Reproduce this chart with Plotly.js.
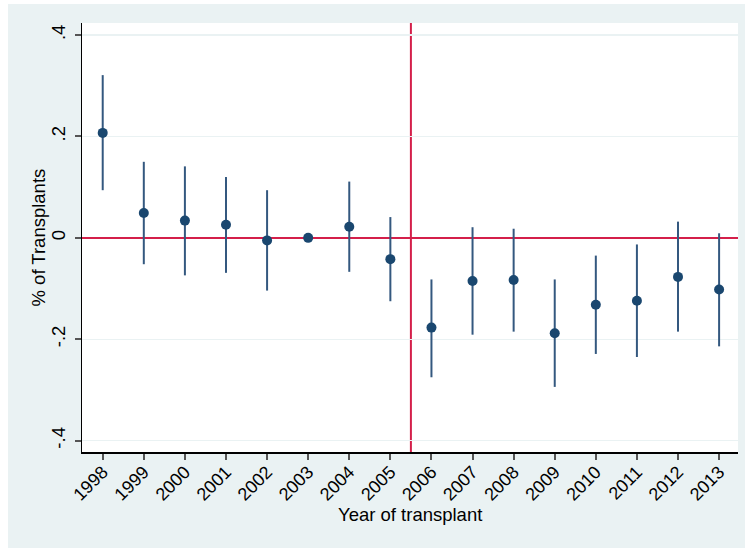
<!DOCTYPE html>
<html>
<head>
<meta charset="utf-8">
<script src="https://cdn.plot.ly/plotly-3.0.1.min.js"></script>
<style>
html,body{margin:0;padding:0;background:#ffffff;width:745px;height:548px;overflow:hidden;}
#chart{position:absolute;left:8px;top:4px;width:737px;height:544px;}
</style>
</head>
<body>
<div id="chart"></div>
<script>
var years = [1998,1999,2000,2001,2002,2003,2004,2005,2006,2007,2008,2009,2010,2011,2012,2013];
var estimate = [0.207,0.049,0.034,0.026,-0.005,0.0,0.022,-0.042,-0.177,-0.085,-0.083,-0.188,-0.132,-0.124,-0.077,-0.102];
var upperCI = [0.321,0.150,0.141,0.120,0.094,0.0,0.111,0.041,-0.082,0.021,0.018,-0.082,-0.035,-0.013,0.032,0.009];
var lowerCI = [0.094,-0.052,-0.074,-0.069,-0.104,0.0,-0.067,-0.125,-0.275,-0.191,-0.185,-0.294,-0.229,-0.235,-0.185,-0.214];
var yTickVals = [0.4,0.2,0,-0.2,-0.4];
var yTickText = [".4",".2","0","-.2","-.4"];
var cutoffYear = 2005.5;
var xTitle = 'Year of transplant';
var yTitle = '% of Transplants';

var errPlus = estimate.map(function(v,i){return upperCI[i]-v;});
var errMinus = estimate.map(function(v,i){return v-lowerCI[i];});

var font = "Liberation Sans, Arial, Helvetica, sans-serif";

var trace = {
  x: years, y: estimate, type: 'scatter', mode: 'markers',
  marker: {color:'#1a476f', size:10},
  error_y: {type:'data', symmetric:false, array:errPlus, arrayminus:errMinus,
            width:0, thickness:2, color:'#34587f'},
  hoverinfo:'x+y', showlegend:false
};

var layout = {
  width:737, height:544,
  paper_bgcolor:'#eaf2f3', plot_bgcolor:'#ffffff',
  margin:{l:74, r:7, t:19, b:96},
  font:{family:font, size:18, color:'#000000'},
  xaxis:{
    range:[1997.496, 2013.46], tickvals:years, ticktext:years.map(String),
    tickangle:-45, ticks:'outside', ticklen:6, tickwidth:2, tickcolor:'#555555',
    ticklabelstandoff:-5,
    showline:true, linecolor:'#000000', linewidth:1.5, mirror:false,
    showgrid:false, zeroline:false,
    tickfont:{family:font, size:18, color:'#000000'},
    automargin:false
  },
  yaxis:{
    range:[-0.4224, 0.4238], tickvals:yTickVals, ticktext:yTickText,
    tickangle:-90, ticks:'outside', ticklen:6, tickwidth:2, tickcolor:'#555555',
    ticklabelstandoff:2,
    showline:true, linecolor:'#000000', linewidth:1.5,
    showgrid:true, gridcolor:'#eaf2f3', gridwidth:1.5,
    zeroline:true, zerolinecolor:'#d41f4a', zerolinewidth:2,
    tickfont:{family:font, size:18.5, color:'#000000'},
    automargin:false
  },
  annotations:[
    {text:xTitle, xref:'paper', yref:'paper', x:0.5, y:0, yshift:-62,
     xanchor:'center', yanchor:'middle', showarrow:false,
     font:{family:font, size:18.5, color:'#000000'}},
    {text:yTitle, xref:'paper', yref:'paper', x:0, y:0.5, xshift:-44,
     xanchor:'center', yanchor:'middle', textangle:-90, showarrow:false,
     font:{family:font, size:18.5, color:'#000000'}}
  ],
  shapes:[
    {type:'line', xref:'x', x0:cutoffYear, x1:cutoffYear, yref:'paper', y0:0, y1:1,
     line:{color:'#d41f4a', width:2}, layer:'below'}
  ]
};

Plotly.newPlot('chart', [trace], layout, {displayModeBar:false, staticPlot:true});
</script>
</body>
</html>
